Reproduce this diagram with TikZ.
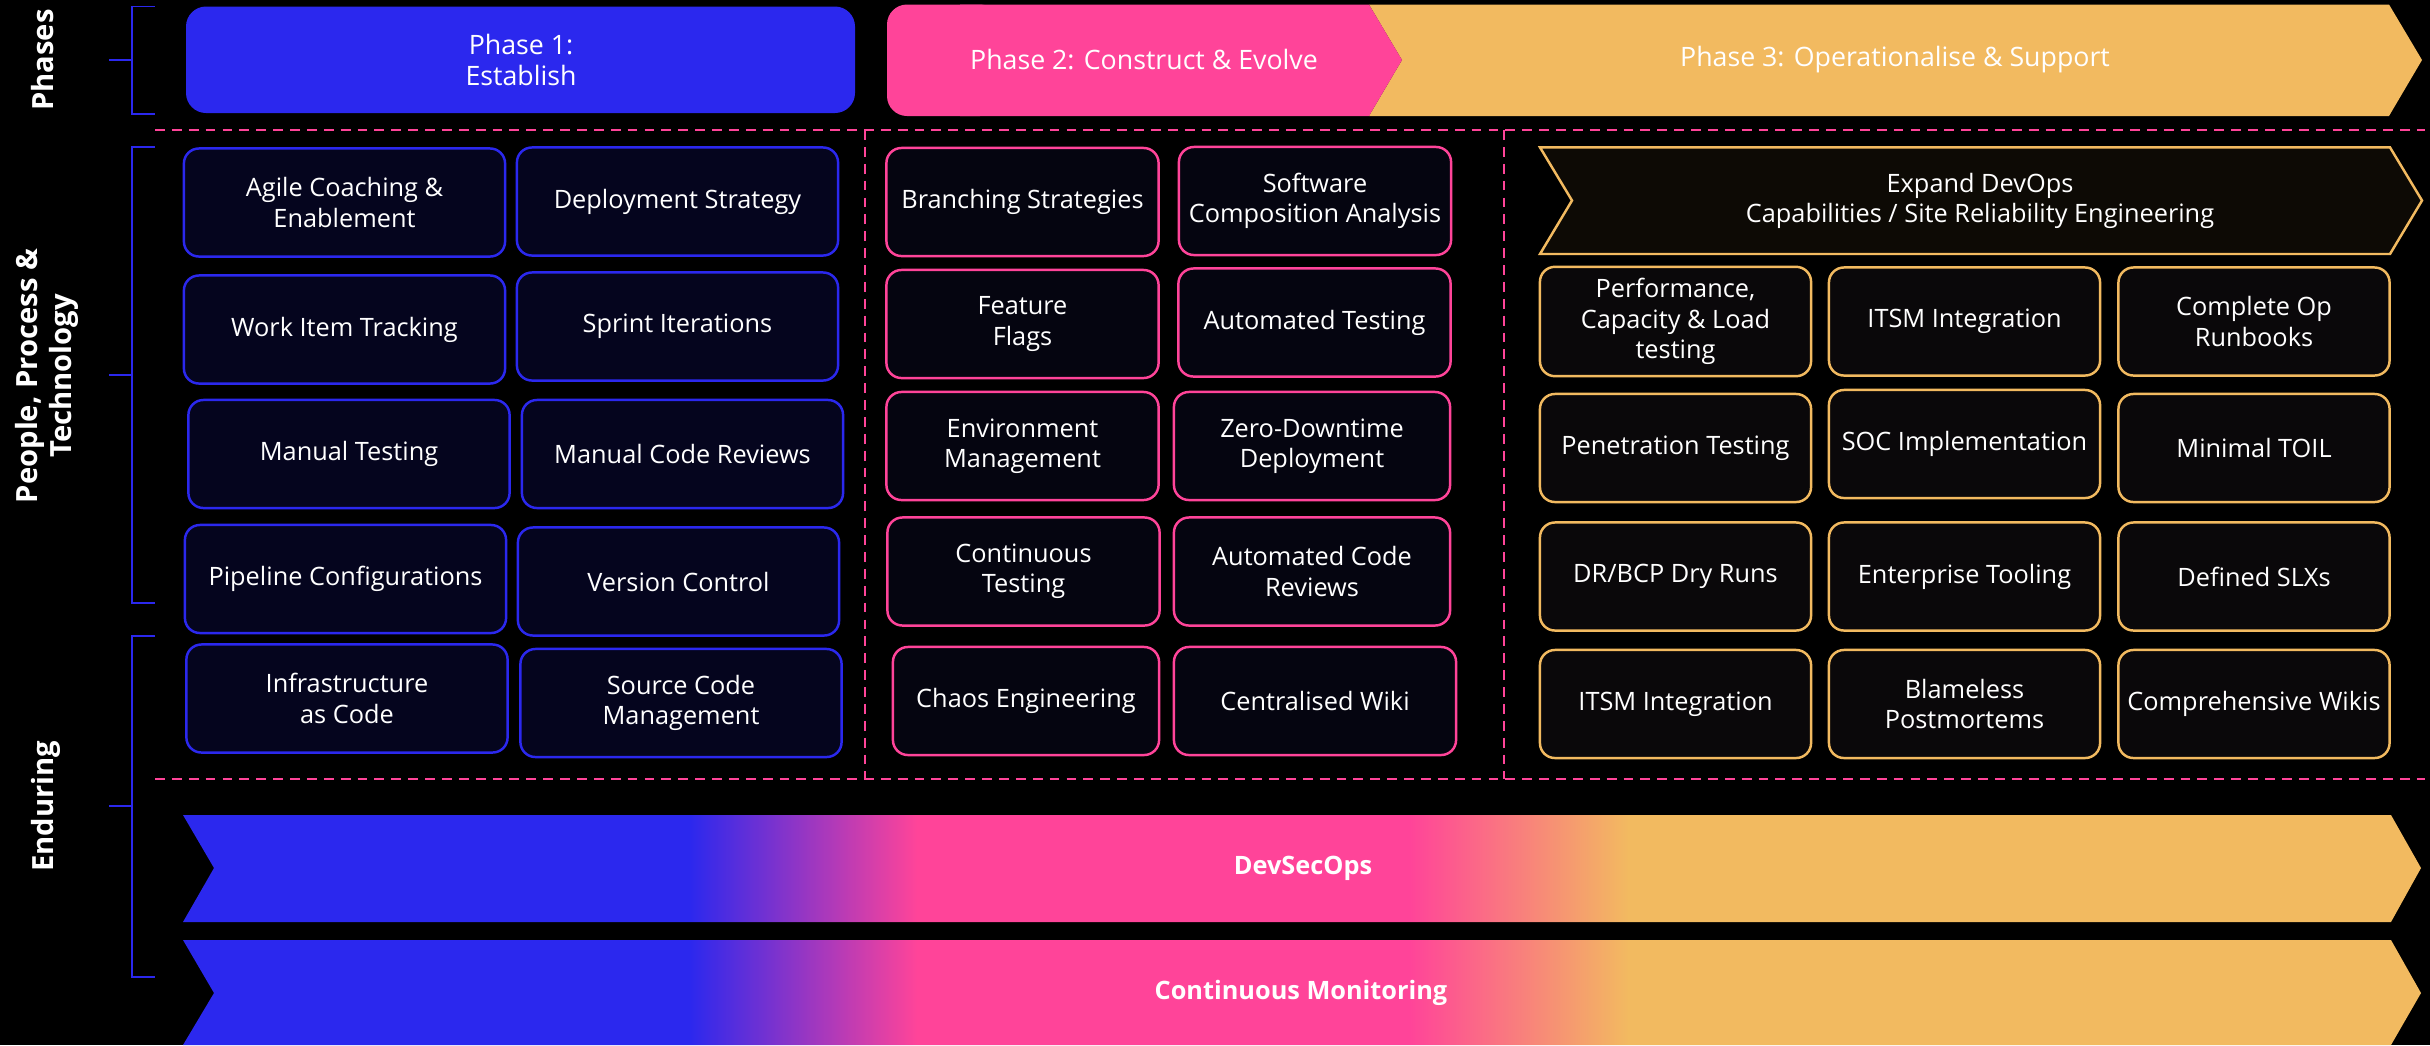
\documentclass[tikz,border=0pt]{standalone}
\usepackage{fontspec}
\setmainfont{Open Sans}
\usepackage{xcolor}

\definecolor{phaseblue}{RGB}{43,40,238}
\definecolor{phasepink}{RGB}{255,68,153}
\definecolor{phaseorange}{RGB}{242,186,96}
\definecolor{boxnavy}{RGB}{5,5,30}
\definecolor{boxink}{RGB}{5,5,16}
\definecolor{boxdark}{RGB}{10,8,10}
\definecolor{chevdark}{RGB}{13,10,5}

\pgfdeclarehorizontalshading{enduring}{100bp}{color(0bp)=(phaseblue); color(36.3bp)=(phaseblue); color(41.4bp)=(phasepink); color(52.4bp)=(phasepink); color(57.3bp)=(phaseorange); color(100bp)=(phaseorange)}

\begin{document}
\begin{tikzpicture}[x=0.01cm,y=-0.01cm,
    txt/.style={text=white,align=center,font=\fontsize{7.2}{8.6}\selectfont},
    phasetxt/.style={text=white,align=center,font=\fontsize{7.6}{9}\selectfont},
    bandtxt/.style={text=white,align=center,font=\bfseries\fontsize{7.2}{8.6}\selectfont},
    sidelbl/.style={text=white,align=center,rotate=90,font=\bfseries\fontsize{8.3}{9.6}\selectfont},
    card/.style={txt,rounded corners=0.15cm,line width=0.7pt,inner xsep=1pt,minimum height=1.08cm},
    bluebox/.style={card,draw=phaseblue,fill=boxnavy,minimum width=3.21cm},
    pinkbox/.style={card,draw=phasepink,fill=boxink,minimum width=2.72cm},
    goldbox/.style={card,draw=phaseorange,fill=boxdark,minimum width=2.71cm},
    divider/.style={phasepink,line width=0.6pt,dash pattern=on 2.8pt off 2pt},
    bracket/.style={phaseblue,line width=0.45pt}]

    \useasboundingbox (0,0) rectangle (2430,1045);
    \fill[black] (0,0) rectangle (2430,1045);

    \node[sidelbl] (phases) at (43,60) {Phases};
    \node[sidelbl] (ppt) at (47,376) {People, Process \&\\Technology};
    \node[sidelbl] (enduring) at (46,806) {Enduring};

    \draw[bracket] (155,6.3) -- (132,6.3) -- (132,114) -- (155,114);
    \draw[bracket] (109,60) -- (132,60);
    \draw[bracket] (155,147) -- (132,147) -- (132,603) -- (155,603);
    \draw[bracket] (109,375) -- (132,375);
    \draw[bracket] (155,636) -- (132,636) -- (132,977) -- (155,977);
    \draw[bracket] (109,806) -- (132,806);

    \fill[phaseblue,rounded corners=0.2cm] (186,6.5) rectangle (855,113);
    \node[phasetxt] (phaseone) at (521,60) {Phase 1:\\Establish};

    \fill[phaseorange] (1369,4.5) -- (2389,4.5) -- (2422,60) -- (2389,116) -- (1369,116) -- (1402,60) -- cycle;
    \fill[phasepink,rounded corners=0.2cm] (887,4.5) rectangle (1000,116);
    \fill[phasepink] (960,4.5) -- (1369,4.5) -- (1402,60) -- (1369,116) -- (960,116) -- cycle;
    \node[phasetxt] (phasetwo) at (1144,60) {Phase 2: Construct \& Evolve};
    \node[phasetxt] (phasethree) at (1895,60) {Phase 3: Operationalise \& Support};

    \draw[divider] (155,130) -- (2425,130);
    \draw[divider] (155,779) -- (2425,779);
    \draw[divider] (865,130) -- (865,779);
    \draw[divider] (1504,130) -- (1504,779);

    \node[bluebox] (agile) at (344.5,202.5) {Agile Coaching \&\\Enablement};
    \node[bluebox] (deploy) at (677.5,201.5) {Deployment Strategy};
    \node[bluebox] (workitem) at (344.5,329.5) {Work Item Tracking};
    \node[bluebox] (sprint) at (677.5,326.5) {Sprint Iterations};
    \node[bluebox] (manualtest) at (349,454) {Manual Testing};
    \node[bluebox] (manualrev) at (682.5,454) {Manual Code Reviews};
    \node[bluebox] (pipeline) at (345.5,579) {Pipeline Configurations};
    \node[bluebox] (version) at (678.5,581.5) {Version Control};
    \node[bluebox] (iac) at (347,698.5) {Infrastructure\\as Code};
    \node[bluebox] (scm) at (681,703) {Source Code\\Management};

    \node[pinkbox] (branch) at (1022.5,202) {Branching Strategies};
    \node[pinkbox] (sca) at (1315,201) {Software\\Composition Analysis};
    \node[pinkbox] (flags) at (1022.5,324) {Feature\\Flags};
    \node[pinkbox] (autotest) at (1314.5,322.5) {Automated Testing};
    \node[pinkbox] (envmgmt) at (1022.5,446) {Environment\\Management};
    \node[pinkbox,minimum width=2.76cm] (zerodown) at (1312,446) {Zero-Downtime\\Deployment};
    \node[pinkbox] (conttest) at (1023.5,571.5) {Continuous\\Testing};
    \node[pinkbox,minimum width=2.76cm] (autorev) at (1312,571.5) {Automated Code\\Reviews};
    \node[pinkbox,minimum width=2.66cm] (chaos) at (1026,701) {Chaos Engineering};
    \node[pinkbox,minimum width=2.82cm] (wiki) at (1315,701) {Centralised Wiki};

    \filldraw[draw=phaseorange,fill=chevdark,line width=0.7pt] (1540,147.4) -- (2390,147.4) -- (2422,200.5) -- (2390,254) -- (1540,254) -- (1572,200.5) -- cycle;
    \node[txt] (expand) at (1980,201) {Expand DevOps\\Capabilities / Site Reliability Engineering};

    \node[goldbox] (perf) at (1675.5,321.5) {Performance,\\Capacity \& Load\\testing};
    \node[goldbox] (itsmone) at (1964.5,321.5) {ITSM Integration};
    \node[goldbox] (runbooks) at (2254,321.5) {Complete Op\\Runbooks};
    \node[goldbox] (pentest) at (1675.5,448) {Penetration Testing};
    \node[goldbox] (soc) at (1964.5,444) {SOC Implementation};
    \node[goldbox] (toil) at (2254,448) {Minimal TOIL};
    \node[goldbox] (drbcp) at (1675.5,576.5) {DR/BCP Dry Runs};
    \node[goldbox] (tooling) at (1964.5,576.5) {Enterprise Tooling};
    \node[goldbox] (slx) at (2254,576.5) {Defined SLXs};
    \node[goldbox] (itsmtwo) at (1675.5,704) {ITSM Integration};
    \node[goldbox] (postmortem) at (1964.5,704) {Blameless\\Postmortems};
    \node[goldbox] (wikis) at (2254,704) {Comprehensive Wikis};

    \shade[shading=enduring] (183,815) -- (2391,815) -- (2421,868) -- (2391,922) -- (183,922) -- (214,868) -- cycle;
    \node[bandtxt] (devsecops) at (1303,868) {DevSecOps};
    \shade[shading=enduring] (183,940) -- (2391,940) -- (2421,993) -- (2391,1045) -- (183,1045) -- (214,993) -- cycle;
    \node[bandtxt] (monitoring) at (1301,993) {Continuous Monitoring};

\end{tikzpicture}
\end{document}
